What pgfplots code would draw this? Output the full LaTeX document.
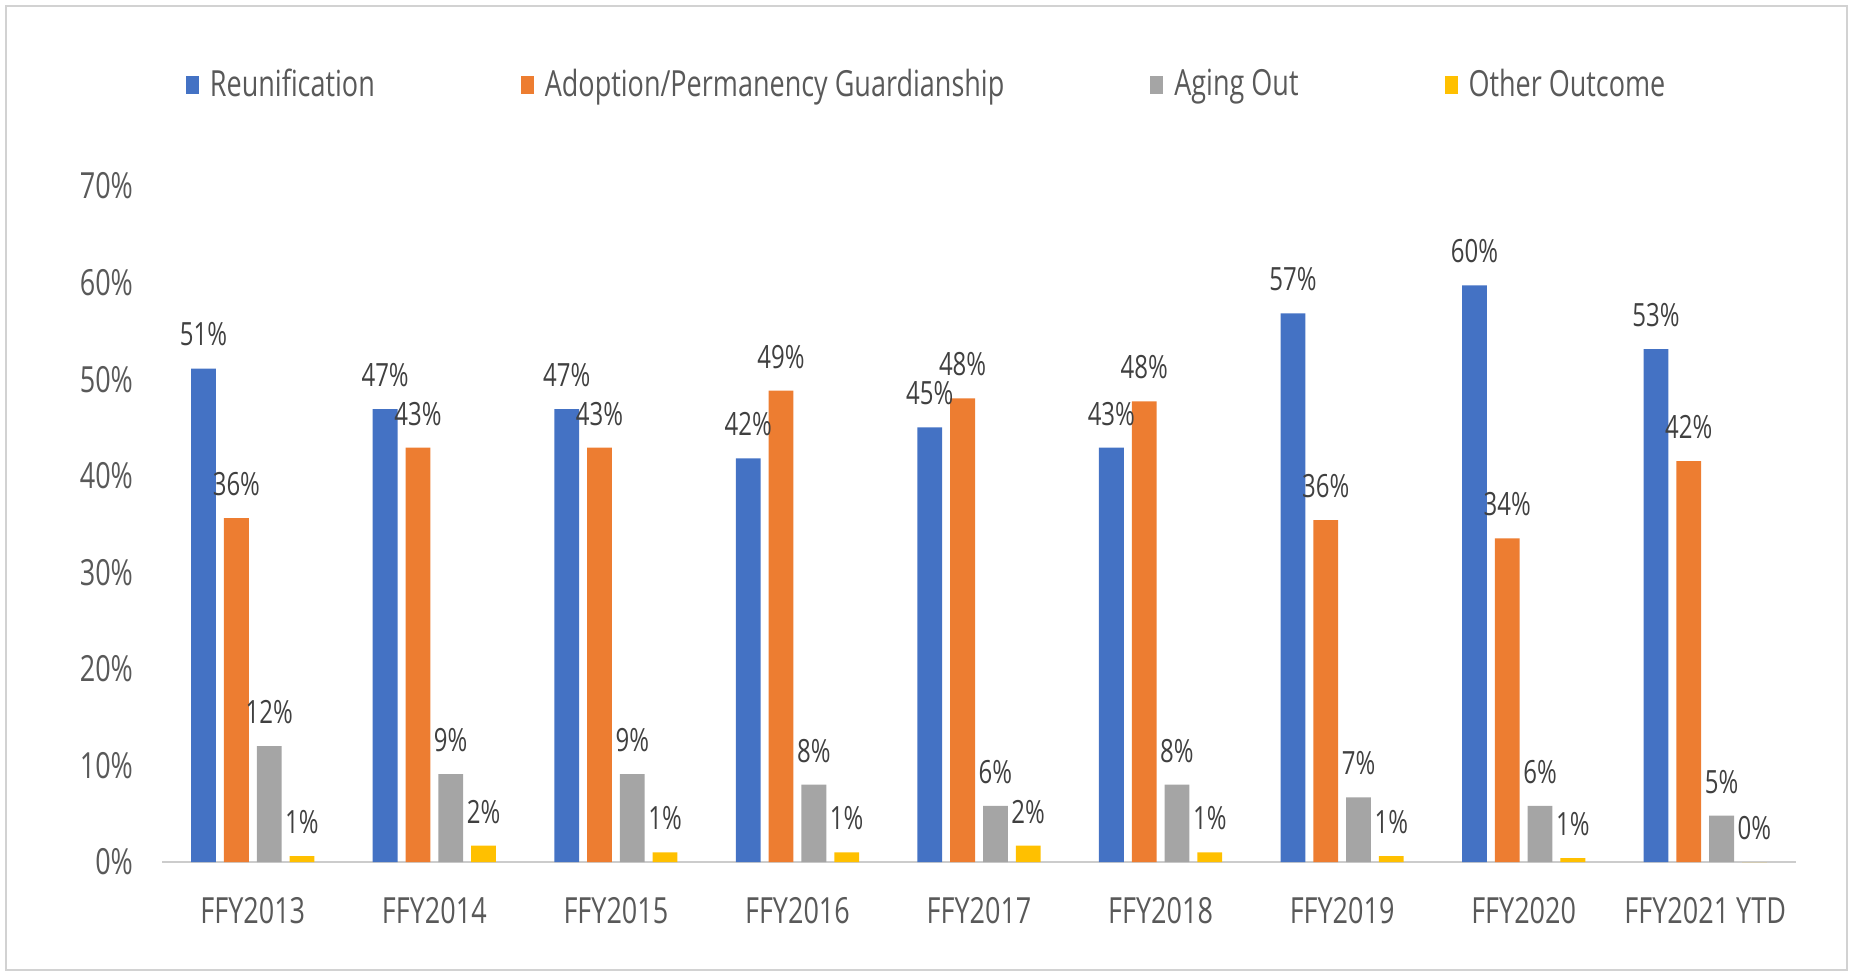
\documentclass[border=0pt]{standalone}
\usepackage{pgfplots}
\pgfplotsset{compat=1.18}
\usepackage{fontspec}
\setmainfont{Open Sans}[FakeStretch=0.75]
\definecolor{cBlue}{HTML}{4472C4}
\definecolor{cOrange}{HTML}{ED7D31}
\definecolor{cGray}{HTML}{A5A5A5}
\definecolor{cYellow}{HTML}{FFC000}
\definecolor{txt}{HTML}{595959}
\definecolor{lbl}{HTML}{404040}
\begin{document}
\begin{tikzpicture}
\path[use as bounding box] (0,0) rectangle (926.5pt,488pt);
\draw[gray!35, line width=1pt] (3pt,3pt) rectangle (923.5pt,485pt);
\begin{axis}[
  at={(81pt,57pt)}, anchor=south west,
  scale only axis, width=817pt, height=338pt,
  ybar=4pt, bar width=12.4pt,
  xmin=-0.5, xmax=8.5, ymin=0, ymax=70,
  xtick={0,...,8},
  xticklabels={FFY2013,FFY2014,FFY2015,FFY2016,FFY2017,FFY2018,FFY2019,FFY2020,FFY2021 YTD},
  ytick={0,10,...,70},
  yticklabels={0\%,10\%,20\%,30\%,40\%,50\%,60\%,70\%},
  major tick length=0pt,
  axis line style={draw=none},
  tick label style={font=\fontsize{18}{20}\selectfont, text=txt},
  yticklabel style={xshift=-11pt},
  xticklabel style={yshift=-14pt},
  point meta=explicit symbolic,
  nodes near coords,
  every node near coord/.append style={anchor=center, yshift=17pt, font=\fontsize{16}{18}\selectfont, text=lbl},
  legend columns=4,
  legend style={at={(0.0144,1.151)}, anchor=west, draw=none, fill=none, inner sep=0pt,
    font=\fontsize{18}{20}\selectfont, text=txt,
    /tikz/every odd column/.append style={column sep=3.5pt},
    /tikz/every even column/.append style={column sep=71pt}},
  legend image code/.code={\fill[#1] (0pt,-5pt) rectangle (6.5pt,4pt);},
]
\draw[gray!40, line width=1pt] (rel axis cs:0,0) -- (rel axis cs:1,0);
\addplot[fill=cBlue, draw=none] coordinates {
  (0,51.1) [51\%] (1,46.9) [47\%] (2,46.9) [47\%] (3,41.8) [42\%] (4,45.0) [45\%]
  (5,42.9) [43\%] (6,56.8) [57\%] (7,59.7) [60\%] (8,53.1) [53\%]};
\addplot[fill=cOrange, draw=none] coordinates {
  (0,35.6) [36\%] (1,42.9) [43\%] (2,42.9) [43\%] (3,48.8) [49\%] (4,48.0) [48\%]
  (5,47.7) [48\%] (6,35.4) [36\%] (7,33.5) [34\%] (8,41.5) [42\%]};
\addplot[fill=cGray, draw=none] coordinates {
  (0,12.0) [12\%] (1,9.1) [9\%] (2,9.1) [9\%] (3,8.0) [8\%] (4,5.8) [6\%]
  (5,8.0) [8\%] (6,6.7) [7\%] (7,5.8) [6\%] (8,4.8) [5\%]};
\addplot[fill=cYellow, draw=none] coordinates {
  (0,0.6) [1\%] (1,1.7) [2\%] (2,1.0) [1\%] (3,1.0) [1\%] (4,1.7) [2\%]
  (5,1.0) [1\%] (6,0.6) [1\%] (7,0.4) [1\%] (8,0.0) [0\%]};
\legend{Reunification, Adoption/Permanency Guardianship, Aging Out, Other Outcome}
\end{axis}
\end{tikzpicture}
\end{document}
